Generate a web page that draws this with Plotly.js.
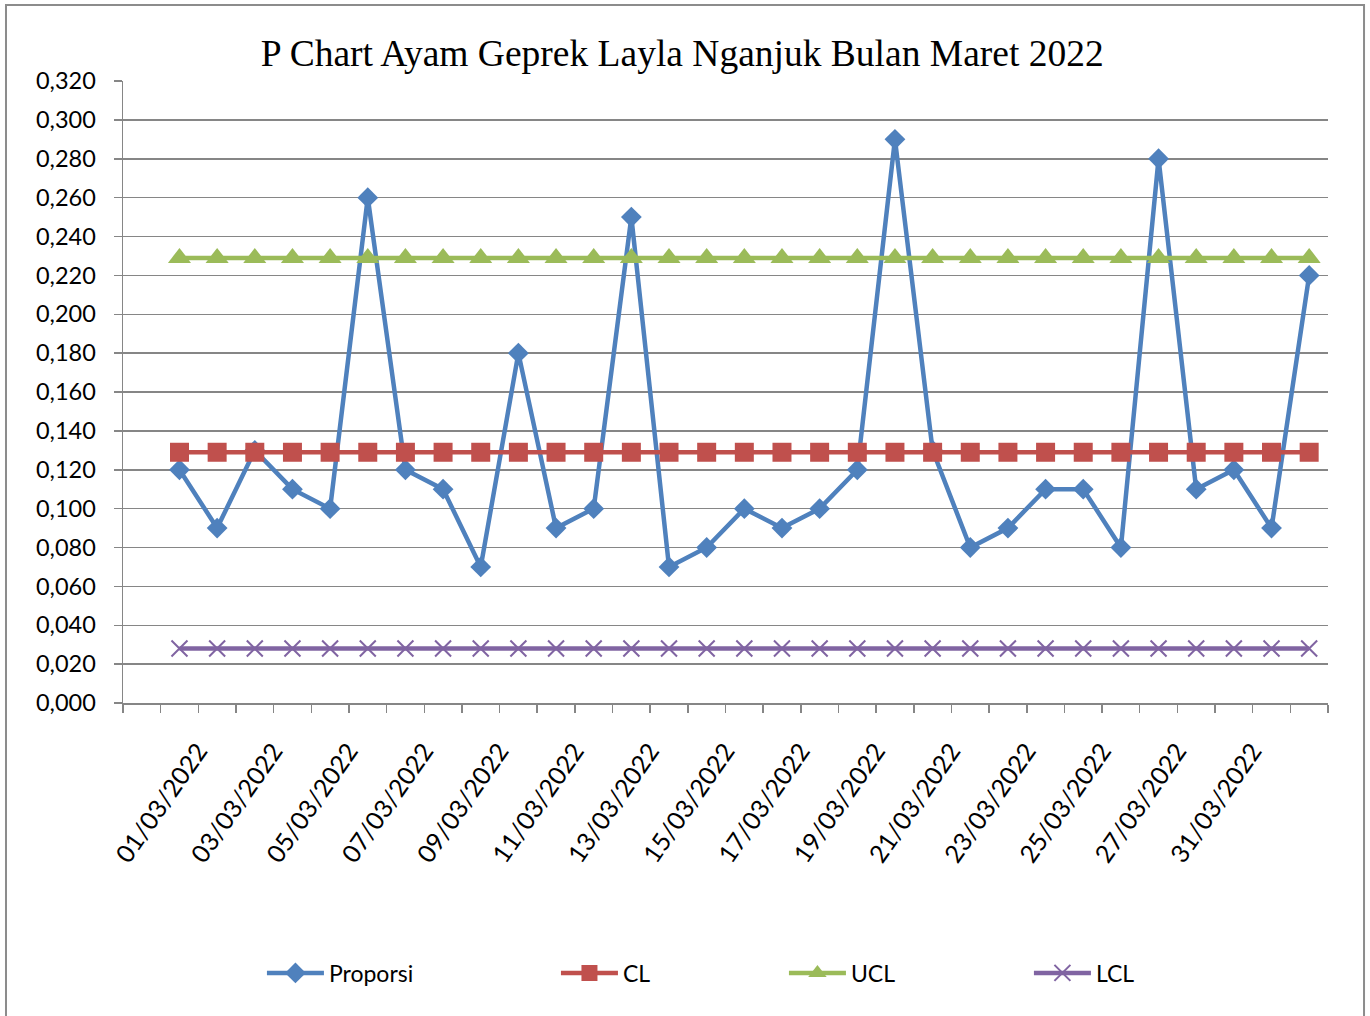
<!DOCTYPE html>
<html>
<head>
<meta charset="utf-8">
<script src="https://cdn.plot.ly/plotly-3.0.1.min.js"></script>
<style>
html,body{margin:0;padding:0;background:#fff;}
#chart{width:1370px;height:1016px;}
</style>
</head>
<body>
<div id="chart"></div>
<script>
// ---- data ----
const proporsi = [0.120,0.090,0.130,0.110,0.100,0.260,0.120,0.110,0.070,0.180,0.090,0.100,0.250,0.070,0.080,0.100,0.090,0.100,0.120,0.290,0.130,0.080,0.090,0.110,0.110,0.080,0.280,0.110,0.120,0.090,0.220];
const clValue = 0.129;
const uclValue = 0.229;
const lclValue = 0.028;
const tickLabels = ["01/03/2022","03/03/2022","05/03/2022","07/03/2022","09/03/2022","11/03/2022","13/03/2022","15/03/2022","17/03/2022","19/03/2022","21/03/2022","23/03/2022","25/03/2022","27/03/2022","31/03/2022"];
const seriesNames = ["Proporsi","CL","UCL","LCL"];

// ---- build ----
const n = proporsi.length;
const xs = proporsi.map((_, i) => i + 1);
const cl = xs.map(() => clValue);
const ucl = xs.map(() => uclValue);
const lcl = xs.map(() => lclValue);

// category boundaries (Excel style ticks between categories), labels every 2nd category
const tickvals = [];
const ticktext = [];
for (let k = 0; k <= n + 1; k++) {
  tickvals.push(k - 0.5);
  let t = "";
  if (k >= 2 && (k % 2 === 0)) {
    const li = k / 2 - 1;
    if (li < tickLabels.length) t = tickLabels[li];
  }
  ticktext.push(t);
}

const blue = "#4F81BD", red = "#C0504D", green = "#9BBB59", purple = "#8064A2";
const grid = "#868686";
const fontFam = "Lato, 'Open Sans', sans-serif";

const traces = [
  {x: xs, y: proporsi, name: seriesNames[0], mode: "lines+markers", legend: "legend", showlegend: true,
   line: {color: blue, width: 4.5}, marker: {symbol: "diamond", size: 16, color: blue}},
  {x: xs, y: cl, name: seriesNames[1], mode: "lines+markers", legend: "legend2", showlegend: true,
   line: {color: red, width: 4.5}, marker: {symbol: "square", size: 19, color: red}},
  {x: xs, y: ucl, name: seriesNames[2], mode: "lines+markers", legend: "legend3", showlegend: true,
   line: {color: green, width: 4.5}, marker: {symbol: "triangle-up", size: 20, color: green}},
  {x: xs, y: lcl, name: seriesNames[3], mode: "lines+markers", legend: "legend4", showlegend: true,
   line: {color: purple, width: 4.5}, marker: {symbol: "x-thin-open", size: 16, color: purple, line: {color: purple, width: 2}}}
];

function leg(x) {
  return {orientation: "h", x: x, y: -0.434, xanchor: "left", yanchor: "middle", visible: true,
    font: {family: fontFam, size: 23, color: "#000"}, itemwidth: 57, bgcolor: "rgba(0,0,0,0)"};
}

const layout = {
  width: 1370, height: 1016,
  margin: {l: 123, r: 42, t: 81, b: 313},
  paper_bgcolor: "#fff", plot_bgcolor: "#fff",
  separators: ",.",
  showlegend: true,
  title: {text: "P Chart Ayam Geprek Layla Nganjuk Bulan Maret 2022",
    font: {family: "'Liberation Serif', 'Times New Roman', serif", size: 37.5, color: "#000"},
    xref: "container", x: 0.498, yref: "container", y: 1 - 53/1016, xanchor: "center", yanchor: "middle"},
  xaxis: {
    range: [-0.5, n + 0.5], tickmode: "array", tickvals: tickvals, ticktext: ticktext,
    tickangle: -55, ticks: "outside", ticklen: 8, tickwidth: 1.5, tickcolor: grid,
    showline: true, linecolor: grid, linewidth: 1.5, showgrid: false, zeroline: false,
    tickfont: {family: fontFam, size: 25, color: "#000"}, ticklabelstandoff: 14, fixedrange: true
  },
  yaxis: {
    range: [0, 0.32], dtick: 0.02, tick0: 0, tickformat: ".3f",
    ticks: "outside", ticklen: 8, tickwidth: 1.5, tickcolor: grid,
    showline: true, linecolor: grid, linewidth: 1.5,
    showgrid: true, gridcolor: grid, gridwidth: 1.5, zeroline: false,
    tickfont: {family: fontFam, size: 23.5, color: "#000"}, ticklabelstandoff: 13, fixedrange: true
  },
  legend: leg(0.1153),
  legend2: leg(0.3593),
  legend3: leg(0.5485),
  legend4: leg(0.7518),
  shapes: [
    {type: "rect", xref: "paper", yref: "paper", x0: -0.0971, x1: 1.0299, y0: -0.52, y1: 1.1222,
     line: {color: "#8C8C8C", width: 2}, fillcolor: "rgba(0,0,0,0)", layer: "below"}
  ]
};

Plotly.newPlot("chart", traces, layout, {displayModeBar: false, staticPlot: true});
</script>
</body>
</html>
